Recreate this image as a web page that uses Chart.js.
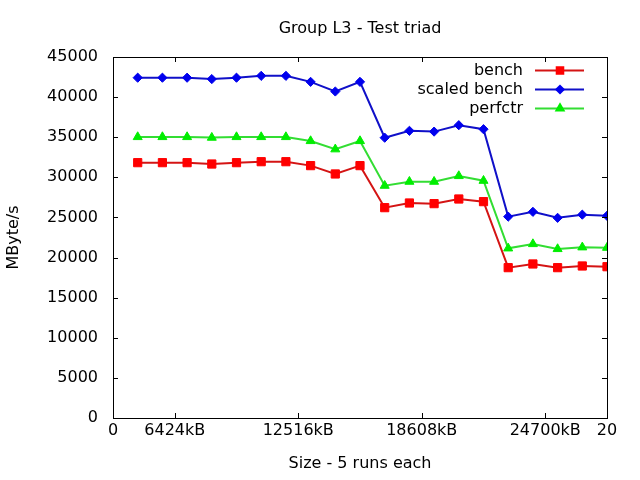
<!DOCTYPE html>
<html lang="en">
<head>
    <meta charset="UTF-8">
    <title>Group L3 - Test triad</title>
    <script src="https://cdn.jsdelivr.net/npm/chart.js"></script>
    <style>
        html, body {margin: 0; padding: 0; background: #fff;}
        #wrap {width: 640px; height: 480px;}
    </style>
</head>
<body>
<div id="wrap"><canvas id="triadChart" width="640" height="480"></canvas></div>
<script>
// run number on the x axis (1..20), one point per size
const runIndex = [1, 2, 3, 4, 5, 6, 7, 8, 9, 10, 11, 12, 13, 14, 15, 16, 17, 18, 19, 20];

// MByte/s
const bench = [31830, 31830, 31830, 31660, 31830, 31950, 31950, 31460, 30420, 31460,
               26220, 26800, 26720, 27300, 26970, 18740, 19200, 18740, 18950, 18860];
const scaledBench = [42420, 42420, 42420, 42250, 42420, 42650, 42650, 41900, 40700, 41900,
                     34940, 35800, 35700, 36500, 36000, 25100, 25700, 24950, 25350, 25200];
const perfctr = [35030, 35030, 35030, 34950, 35030, 35030, 35030, 34530, 33500, 34530,
                 28960, 29460, 29460, 30170, 29580, 21150, 21690, 21070, 21280, 21230];

// x tick positions and their labels
const xTickValues = [0, 2.5, 7.5, 12.5, 17.5, 20];
const xTickLabels = ['0', '6424kB', '12516kB', '18608kB', '24700kB', '20'];

const FONT = {family: "'DejaVu Sans', sans-serif", size: 16};

function toPoints(values) {
    return values.map((v, i) => ({x: runIndex[i], y: v}));
}

// box around the plot + inward tick marks on all four sides (gnuplot style)
const borderPlugin = {
    id: 'gnuBorder',
    afterDatasetsDraw(chart) {
        const ctx = chart.ctx;
        const a = chart.chartArea;
        const xs = chart.scales.x, ys = chart.scales.y;
        const tick = 5;
        ctx.save();
        ctx.strokeStyle = '#000';
        ctx.lineWidth = 1;
        ctx.beginPath();
        xs.ticks.forEach(t => {
            const px = Math.round(xs.getPixelForValue(t.value)) + 0.5;
            ctx.moveTo(px, a.bottom); ctx.lineTo(px, a.bottom - tick);
            ctx.moveTo(px, a.top); ctx.lineTo(px, a.top + tick);
        });
        ys.ticks.forEach(t => {
            const py = Math.round(ys.getPixelForValue(t.value)) + 0.5;
            ctx.moveTo(a.left, py); ctx.lineTo(a.left + tick, py);
            ctx.moveTo(a.right, py); ctx.lineTo(a.right - tick, py);
        });
        ctx.stroke();
        ctx.strokeRect(Math.round(a.left) + 0.5, Math.round(a.top) + 0.5,
                       Math.round(a.right - a.left), Math.round(a.bottom - a.top));
        ctx.restore();
    }
};

// legend inside the plot, top right, text right-aligned before the sample
const legendPlugin = {
    id: 'gnuLegend',
    afterDatasetsDraw(chart) {
        const ctx = chart.ctx;
        const a = chart.chartArea;
        ctx.save();
        ctx.font = FONT.size + 'px ' + FONT.family;
        ctx.textAlign = 'right';
        ctx.textBaseline = 'middle';
        chart.data.datasets.forEach((ds, i) => {
            const y = a.top + 13.5 + i * 19;
            ctx.fillStyle = '#000';
            ctx.fillText(ds.label, a.right - 84, y);
            ctx.strokeStyle = ds.borderColor;
            ctx.lineWidth = 2;
            ctx.beginPath();
            ctx.moveTo(a.right - 72, y);
            ctx.lineTo(a.right - 23, y);
            ctx.stroke();
            ctx.fillStyle = ds.pointBackgroundColor;
            ctx.strokeStyle = ds.pointBackgroundColor;
            Chart.helpers.drawPoint(ctx, {pointStyle: ds.pointStyle, radius: ds.pointRadius * 0.8, borderWidth: 1}, a.right - 47, y);
        });
        ctx.restore();
    }
};

new Chart(document.getElementById('triadChart').getContext('2d'), {
    type: 'line',
    data: {
        datasets: [{
            label: 'bench',
            data: toPoints(bench),
            borderColor: '#d41414',
            borderWidth: 2,
            pointStyle: 'rect',
            pointRadius: 5.8,
            pointBackgroundColor: '#ff0000',
            pointBorderColor: '#ff0000',
            pointBorderWidth: 1
        }, {
            label: 'scaled bench',
            data: toPoints(scaledBench),
            borderColor: '#1010c8',
            borderWidth: 2,
            pointStyle: 'rectRot',
            pointRadius: 4.6,
            pointBackgroundColor: '#0000ee',
            pointBorderColor: '#0000ee',
            pointBorderWidth: 1
        }, {
            label: 'perfctr',
            data: toPoints(perfctr),
            borderColor: '#33dd33',
            borderWidth: 2,
            pointStyle: 'triangle',
            pointRadius: 5.2,
            pointBackgroundColor: '#00ee00',
            pointBorderColor: '#00ee00',
            pointBorderWidth: 1
        }]
    },
    options: {
        responsive: false,
        animation: false,
        layout: {padding: {left: 0, right: 33, top: 0, bottom: 0}},
        plugins: {
            legend: {display: false},
            tooltip: {enabled: false},
            title: {
                display: true,
                text: 'Group L3 - Test triad',
                color: '#000',
                fullSize: false,
                font: {family: FONT.family, size: FONT.size, weight: 'normal'},
                padding: {top: 19.4, bottom: 18.4}
            }
        },
        scales: {
            x: {
                type: 'linear',
                min: 0,
                max: 20,
                afterBuildTicks: scale => { scale.ticks = xTickValues.map(v => ({value: v})); },
                afterFit: scale => { scale.height = 62; },
                grid: {display: false, drawTicks: false},
                border: {display: false},
                ticks: {
                    autoSkip: false,
                    maxRotation: 0,
                    padding: 3,
                    color: '#000',
                    font: FONT,
                    callback: (value, index) => xTickLabels[index]
                },
                title: {
                    display: true,
                    text: 'Size - 5 runs each',
                    color: '#000',
                    font: FONT,
                    padding: {top: 0, bottom: 6.4}
                }
            },
            y: {
                min: 0,
                max: 45000,
                afterFit: scale => { scale.width = 113; },
                grid: {display: false, drawTicks: false},
                border: {display: false},
                ticks: {
                    stepSize: 5000,
                    padding: 15,
                    color: '#000',
                    font: FONT,
                    callback: value => String(value)
                },
                title: {
                    display: true,
                    text: 'MByte/s',
                    color: '#000',
                    font: FONT,
                    padding: {top: 4, bottom: 0}
                }
            }
        }
    },
    plugins: [borderPlugin, legendPlugin]
});
</script>
</body>
</html>
